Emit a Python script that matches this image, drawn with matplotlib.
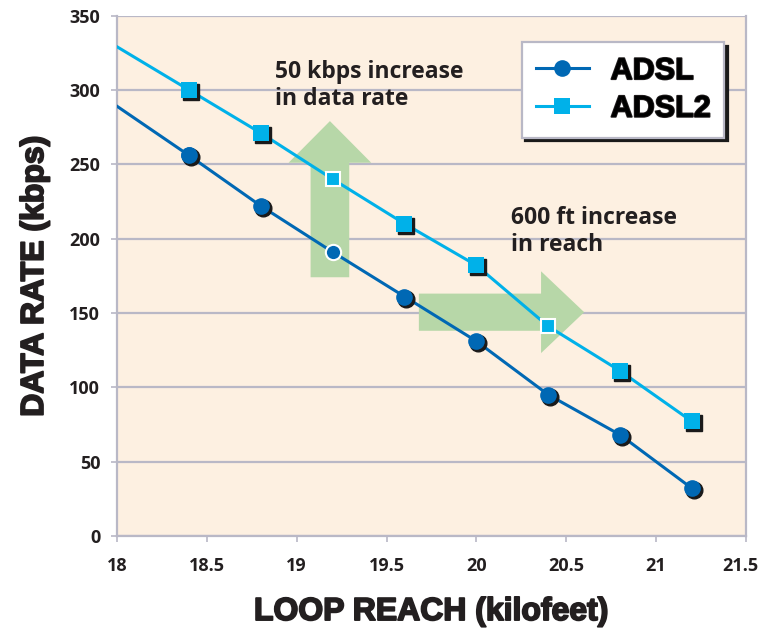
import numpy as np
import matplotlib
matplotlib.use("Agg")
import matplotlib.pyplot as plt
import matplotlib.transforms as mtransforms
import matplotlib.patheffects as pe
from matplotlib.patches import FancyArrow

# loop reach (kilofeet); first point is the line start, no marker drawn
reach = [18.0, 18.4, 18.8, 19.2, 19.6, 20.0, 20.4, 20.8, 21.2]
adsl = [289, 256, 222, 191, 161, 131, 95, 68, 32]
adsl2 = [329, 300, 271, 240, 210, 182, 141, 111, 77]
# points sitting on the green arrows: white edge, no shadow
hi_adsl = [3]
hi_adsl2 = [3, 6]
xticks = [18, 18.5, 19, 19.5, 20, 20.5, 21, 21.5]
xtick_labels = ["18", "18.5", "19", "19.5", "20", "20.5", "21", "21.5"]

C_ADSL = "#0068b4"
C_ADSL2 = "#00b1e9"
BG = "#fdf0e1"
GRID = "#b9b8c6"
ARROW = "#b7d7a8"
TXT = "#231f20"
HEAVY = [pe.withStroke(linewidth=1.3, foreground=TXT)]

fig = plt.figure(figsize=(7.61, 6.28), dpi=100)
ax = fig.add_axes([0.1537, 0.1465, 0.8265, 0.8288])
ax.set_facecolor(BG)
ax.set_xlim(18, 21.5)
ax.set_ylim(0, 350)

ax.set_yticks(np.arange(0, 351, 50))
ax.set_xticks(xticks)
# last label is drawn by hand so it can sit flush with the figure edge
ax.set_xticklabels(xtick_labels[:-1] + [""])
ax.yaxis.grid(True, color=GRID, lw=1.6)
ax.set_axisbelow(True)
for s in ["left", "bottom", "right"]:
    ax.spines[s].set_color(GRID)
    ax.spines[s].set_linewidth(1.6)
ax.spines["top"].set_visible(False)
ax.tick_params(colors=GRID, width=1.2, length=4, labelcolor=TXT)
ax.tick_params(axis="x", pad=11)
ax.tick_params(axis="y", pad=8)
tick_font = dict(fontfamily="Open Sans", fontweight="bold", fontsize=13)
for lab in ax.get_xticklabels() + ax.get_yticklabels():
    lab.set(**tick_font)
last_off = mtransforms.ScaledTranslation(12 / 100, -15 / 72, fig.dpi_scale_trans)
ax.text(1.0, 0.0, xtick_labels[-1], transform=ax.transAxes + last_off,
        ha="right", va="top", color=TXT, **tick_font)

# green arrows (behind the lines)
ax.add_patch(FancyArrow(19.185, 174, 0, 105, width=0.215, head_width=0.46,
                        head_length=28, length_includes_head=True,
                        color=ARROW, lw=0, zorder=1))
ax.add_patch(FancyArrow(19.68, 150.5, 0.92, 0, width=25, head_width=55,
                        head_length=0.24, length_includes_head=True,
                        color=ARROW, lw=0, zorder=1))

shadow = ax.transData + mtransforms.ScaledTranslation(1.4 / 72, -1.4 / 72, fig.dpi_scale_trans)


def series(y, color, marker, ms, hi, label):
    x = np.array(reach)
    y = np.array(y)
    ax.plot(x, y, color=color, lw=2.2, zorder=3, label=label,
            marker=marker, ms=ms, markevery=[1], markeredgewidth=0)
    idx = [i for i in range(1, len(x)) if i not in hi]
    ax.plot(x[idx], y[idx], ls="none", marker=marker, ms=ms, color="#1a1a1a",
            transform=shadow, zorder=4)
    ax.plot(x[idx], y[idx], ls="none", marker=marker, ms=ms, color=color,
            markeredgewidth=0, zorder=5)
    ax.plot(x[hi], y[hi], ls="none", marker=marker, ms=ms - 1, color=color,
            markeredgecolor="white", markeredgewidth=1.5, zorder=5)


series(adsl, C_ADSL, "o", 12, hi_adsl, "ADSL")
series(adsl2, C_ADSL2, "s", 11.5, hi_adsl2, "ADSL2")

ax.text(18.88, 320, "50 kbps increase\nin data rate", fontfamily="Open Sans",
        fontweight="bold", fontsize=16.5, color=TXT, va="top", linespacing=1.15)
ax.text(20.19, 222, "600 ft increase\nin reach", fontfamily="Open Sans",
        fontweight="bold", fontsize=16.5, color=TXT, va="top", linespacing=1.15)

leg = ax.legend(loc="upper right", bbox_to_anchor=(0.975, 0.96),
                prop={"family": "Liberation Sans", "weight": "bold", "size": 22},
                frameon=True, fancybox=False, edgecolor=GRID, framealpha=1,
                shadow={"color": "#1a1a1a", "alpha": 1, "ox": 2.5, "oy": -2.5},
                borderpad=0.45, handlelength=1.75, handletextpad=0.7,
                labelspacing=0.25, borderaxespad=0.2)
leg.get_frame().set_linewidth(1.6)
for t in leg.get_texts():
    t.set_path_effects(HEAVY)

xl = ax.set_xlabel("LOOP REACH (kilofeet)", fontfamily="Liberation Sans",
                   fontweight="bold", fontsize=23, color=TXT, labelpad=16)
yl = ax.set_ylabel("DATA RATE (kbps)", fontfamily="Liberation Sans",
                   fontweight="bold", fontsize=23, color=TXT, labelpad=14)
xl.set_path_effects(HEAVY)
yl.set_path_effects(HEAVY)

fig.savefig("out.png", dpi=100)
